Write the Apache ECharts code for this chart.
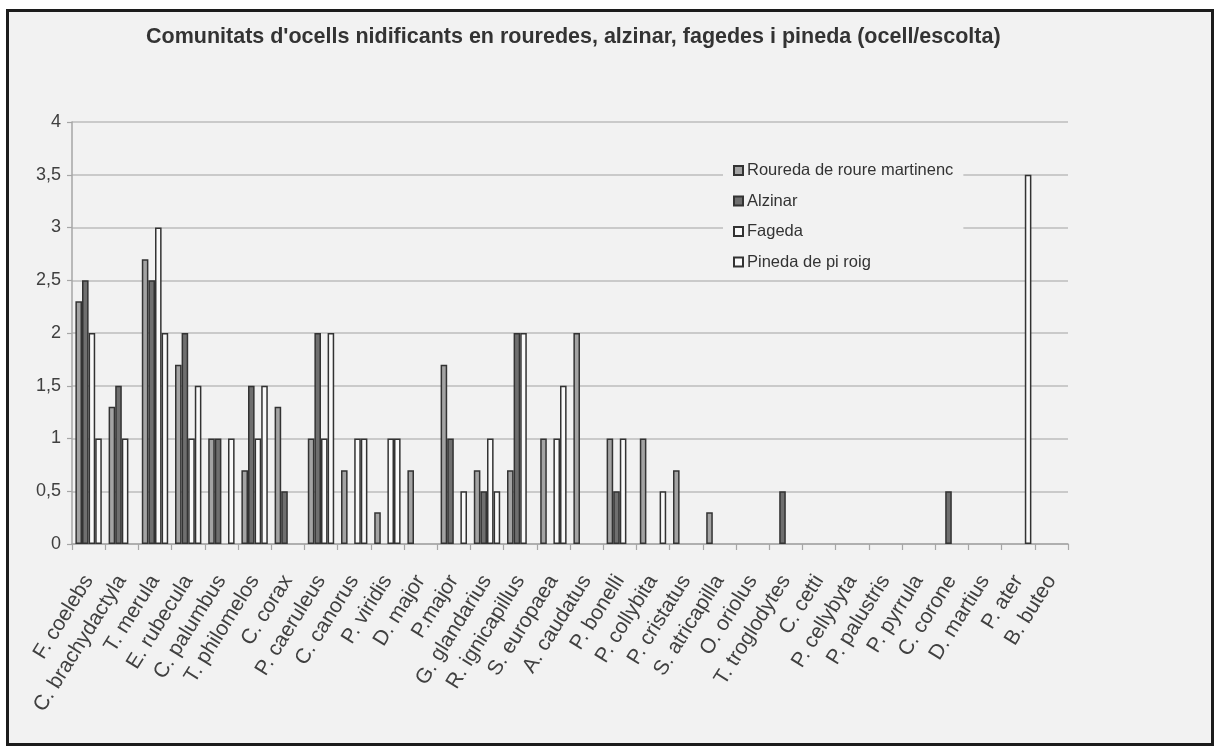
<!DOCTYPE html>
<html>
<head>
<meta charset="utf-8">
<script src="https://cdn.jsdelivr.net/npm/echarts@6/dist/echarts.min.js"></script>
<style>
html,body{margin:0;padding:0;background:#fff;}
#chart{width:1215px;height:747px;}
</style>
</head>
<body>
<div id="chart"></div>
<script>
var categories = ["F. coelebs","C. brachydactyla","T. merula","E. rubecula","C. palumbus","T. philomelos","C. corax","P. caeruleus","C. canorus","P. viridis","D. major","P.major","G. glandarius","R. ignicapillus","S. europaea","A. caudatus","P. bonelli","P. collybita","P. cristatus","S. atricapilla","O. oriolus","T. troglodytes","C. cetti","P. cellybyta","P. palustris","P. pyrrula","C. corone","D. martius","P. ater","B. buteo"];
var seriesNames = ["Roureda de roure martinenc","Alzinar","Fageda","Pineda de pi roig"];
var roureda = [2.3,1.3,2.7,1.7,1.0,0.7,1.3,1.0,0.7,0.3,0.7,1.7,0.7,0.7,1.0,2.0,1.0,1.0,0.7,0.3,0,0,0,0,0,0,0,0,0,0];
var alzinar = [2.5,1.5,2.5,2.0,1.0,1.5,0.5,2.0,0,0,0,1.0,0.5,2.0,0,0,0.5,0,0,0,0,0.5,0,0,0,0,0.5,0,0,0];
var fageda  = [2.0,1.0,3.0,1.0,0,1.0,0,1.0,1.0,1.0,0,0,1.0,2.0,1.0,0,1.0,0,0,0,0,0,0,0,0,0,0,0,0,0];
var pineda  = [1.0,0,2.0,1.5,1.0,1.5,0,2.0,1.0,1.0,0,0.5,0.5,0,1.5,0,0,0.5,0,0,0,0,0,0,0,0,0,0,3.5,0];
var yTicks = {min:0, max:4, interval:0.5};

var fills = ["#a3a3a3","#6f6f6f","#fafafa","#fafafa"];
var seriesData = [roureda, alzinar, fageda, pineda];

function clean(arr){ return arr.map(function(v){ return v === 0 ? '-' : v; }); }

var chart = echarts.init(document.getElementById('chart'), null, {renderer:'canvas'});
var option = {
  backgroundColor:'#ffffff',
  animation:false,
  graphic:[{
    type:'rect', z:-10, silent:true,
    shape:{x:7.5, y:10.5, width:1205, height:734},
    style:{fill:'#f2f2f2', stroke:'#1c1c1c', lineWidth:3}
  }],
  title:{
    text:"Comunitats d'ocells nidificants en rouredes, alzinar, fagedes i pineda (ocell/escolta)",
    left:141, top:21,
    textStyle:{fontFamily:'Liberation Sans, Arial, sans-serif', fontSize:21.5, fontWeight:'bold', color:'#333333'}
  },
  legend:{
    orient:'vertical', left:723, top:157,
    backgroundColor:'#f2f2f2',
    padding:[5,10,7,10],
    itemGap:13.5, itemWidth:9, itemHeight:9,
    icon:'rect',
    textStyle:{fontFamily:'Liberation Sans, Arial, sans-serif', fontSize:16.5, color:'#333333', padding:[0,0,0,-1]},
    data:seriesNames
  },
  grid:{left:72, right:147, top:122, bottom:203, containLabel:false},
  xAxis:{
    type:'category', data:categories,
    axisLine:{lineStyle:{color:'#a6a6a6', width:1.5}},
    axisTick:{show:true, length:6, lineStyle:{color:'#a6a6a6', width:1.2}},
    axisLabel:{interval:0, rotate:58, margin:33, fontFamily:'Liberation Sans, Arial, sans-serif', fontSize:21, color:'#404040'}
  },
  yAxis:{
    type:'value', min:yTicks.min, max:yTicks.max, interval:yTicks.interval,
    axisLine:{show:true, lineStyle:{color:'#a6a6a6', width:1.5}},
    axisTick:{show:true, length:5, lineStyle:{color:'#a6a6a6', width:1.2}},
    splitLine:{lineStyle:{color:'#bdbdbd', width:1.5}},
    axisLabel:{margin:11, fontFamily:'Liberation Sans, Arial, sans-serif', fontSize:18, color:'#404040',
      formatter:function(v){ return String(v).replace('.', ','); }}
  },
  series: seriesNames.map(function(name, i){
    return {
      name:name, type:'bar', data:clean(seriesData[i]),
      barWidth:6.6, barGap:'0%',
      itemStyle:{color:fills[i], borderColor:'#333333', borderWidth:1.5}
    };
  })
};
chart.setOption(option);
</script>
</body>
</html>
